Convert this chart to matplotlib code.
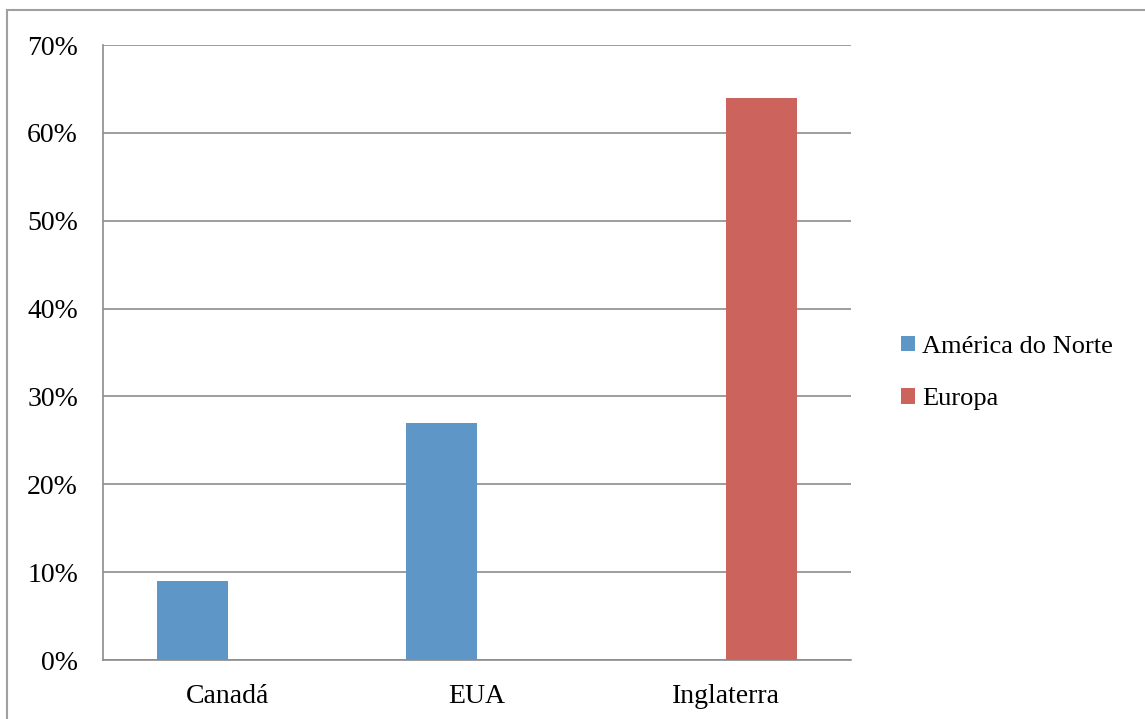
import matplotlib
matplotlib.use("Agg")
import matplotlib.pyplot as plt
import numpy as np
from matplotlib.patches import Rectangle

categories = ["Canadá", "EUA", "Inglaterra"]
series_names = ["América do Norte", "Europa"]
america = [9, 27, 0]
europa = [0, 0, 64]
colors = ["#5F96C8", "#CC635C"]
yticks = [0, 10, 20, 30, 40, 50, 60, 70]

plt.rcParams['font.family'] = ['Liberation Serif', 'DejaVu Serif']

W, H = 1145, 719
fig = plt.figure(figsize=(W/100, H/100), dpi=100)
fig.patches.append(Rectangle((7/W, -0.1), 1.2, 1 - 10/H + 0.1, transform=fig.transFigure,
                             fill=False, edgecolor="#A0A0A0", linewidth=1.5))

ax = fig.add_axes([103/W, (H-660)/H, 748/W, 615/H])
x = np.arange(len(categories))
bw = 0.285
ax.bar(x - bw/2, america, bw, color=colors[0], label=series_names[0], zorder=3)
ax.bar(x + bw/2, europa, bw, color=colors[1], label=series_names[1], zorder=3)

FS = 20
ax.set_xlim(-0.5, 2.5)
ax.set_ylim(0, 70)
ax.set_yticks(yticks)
ax.set_yticklabels([f"{v}%" for v in yticks])
ax.set_xticks(x)
ax.set_xticklabels(categories)
ax.tick_params(length=0, labelsize=FS, colors="black")
ax.tick_params(axis='y', pad=18)
ax.tick_params(axis='x', pad=17)
ax.grid(axis='y', color="#8C8C8C", linewidth=1.2, zorder=0)
for s in ["top", "right"]:
    ax.spines[s].set_visible(False)
for s in ["left", "bottom"]:
    ax.spines[s].set_color("#8C8C8C")
    ax.spines[s].set_linewidth(1.2)

fig.legend(loc="center left", bbox_to_anchor=(877/W, 1 - 373/H), frameon=False,
           fontsize=19, handlelength=0.55, handleheight=0.55, handletextpad=0.25,
           labelspacing=1.15)

fig.savefig("out.png", dpi=100)
